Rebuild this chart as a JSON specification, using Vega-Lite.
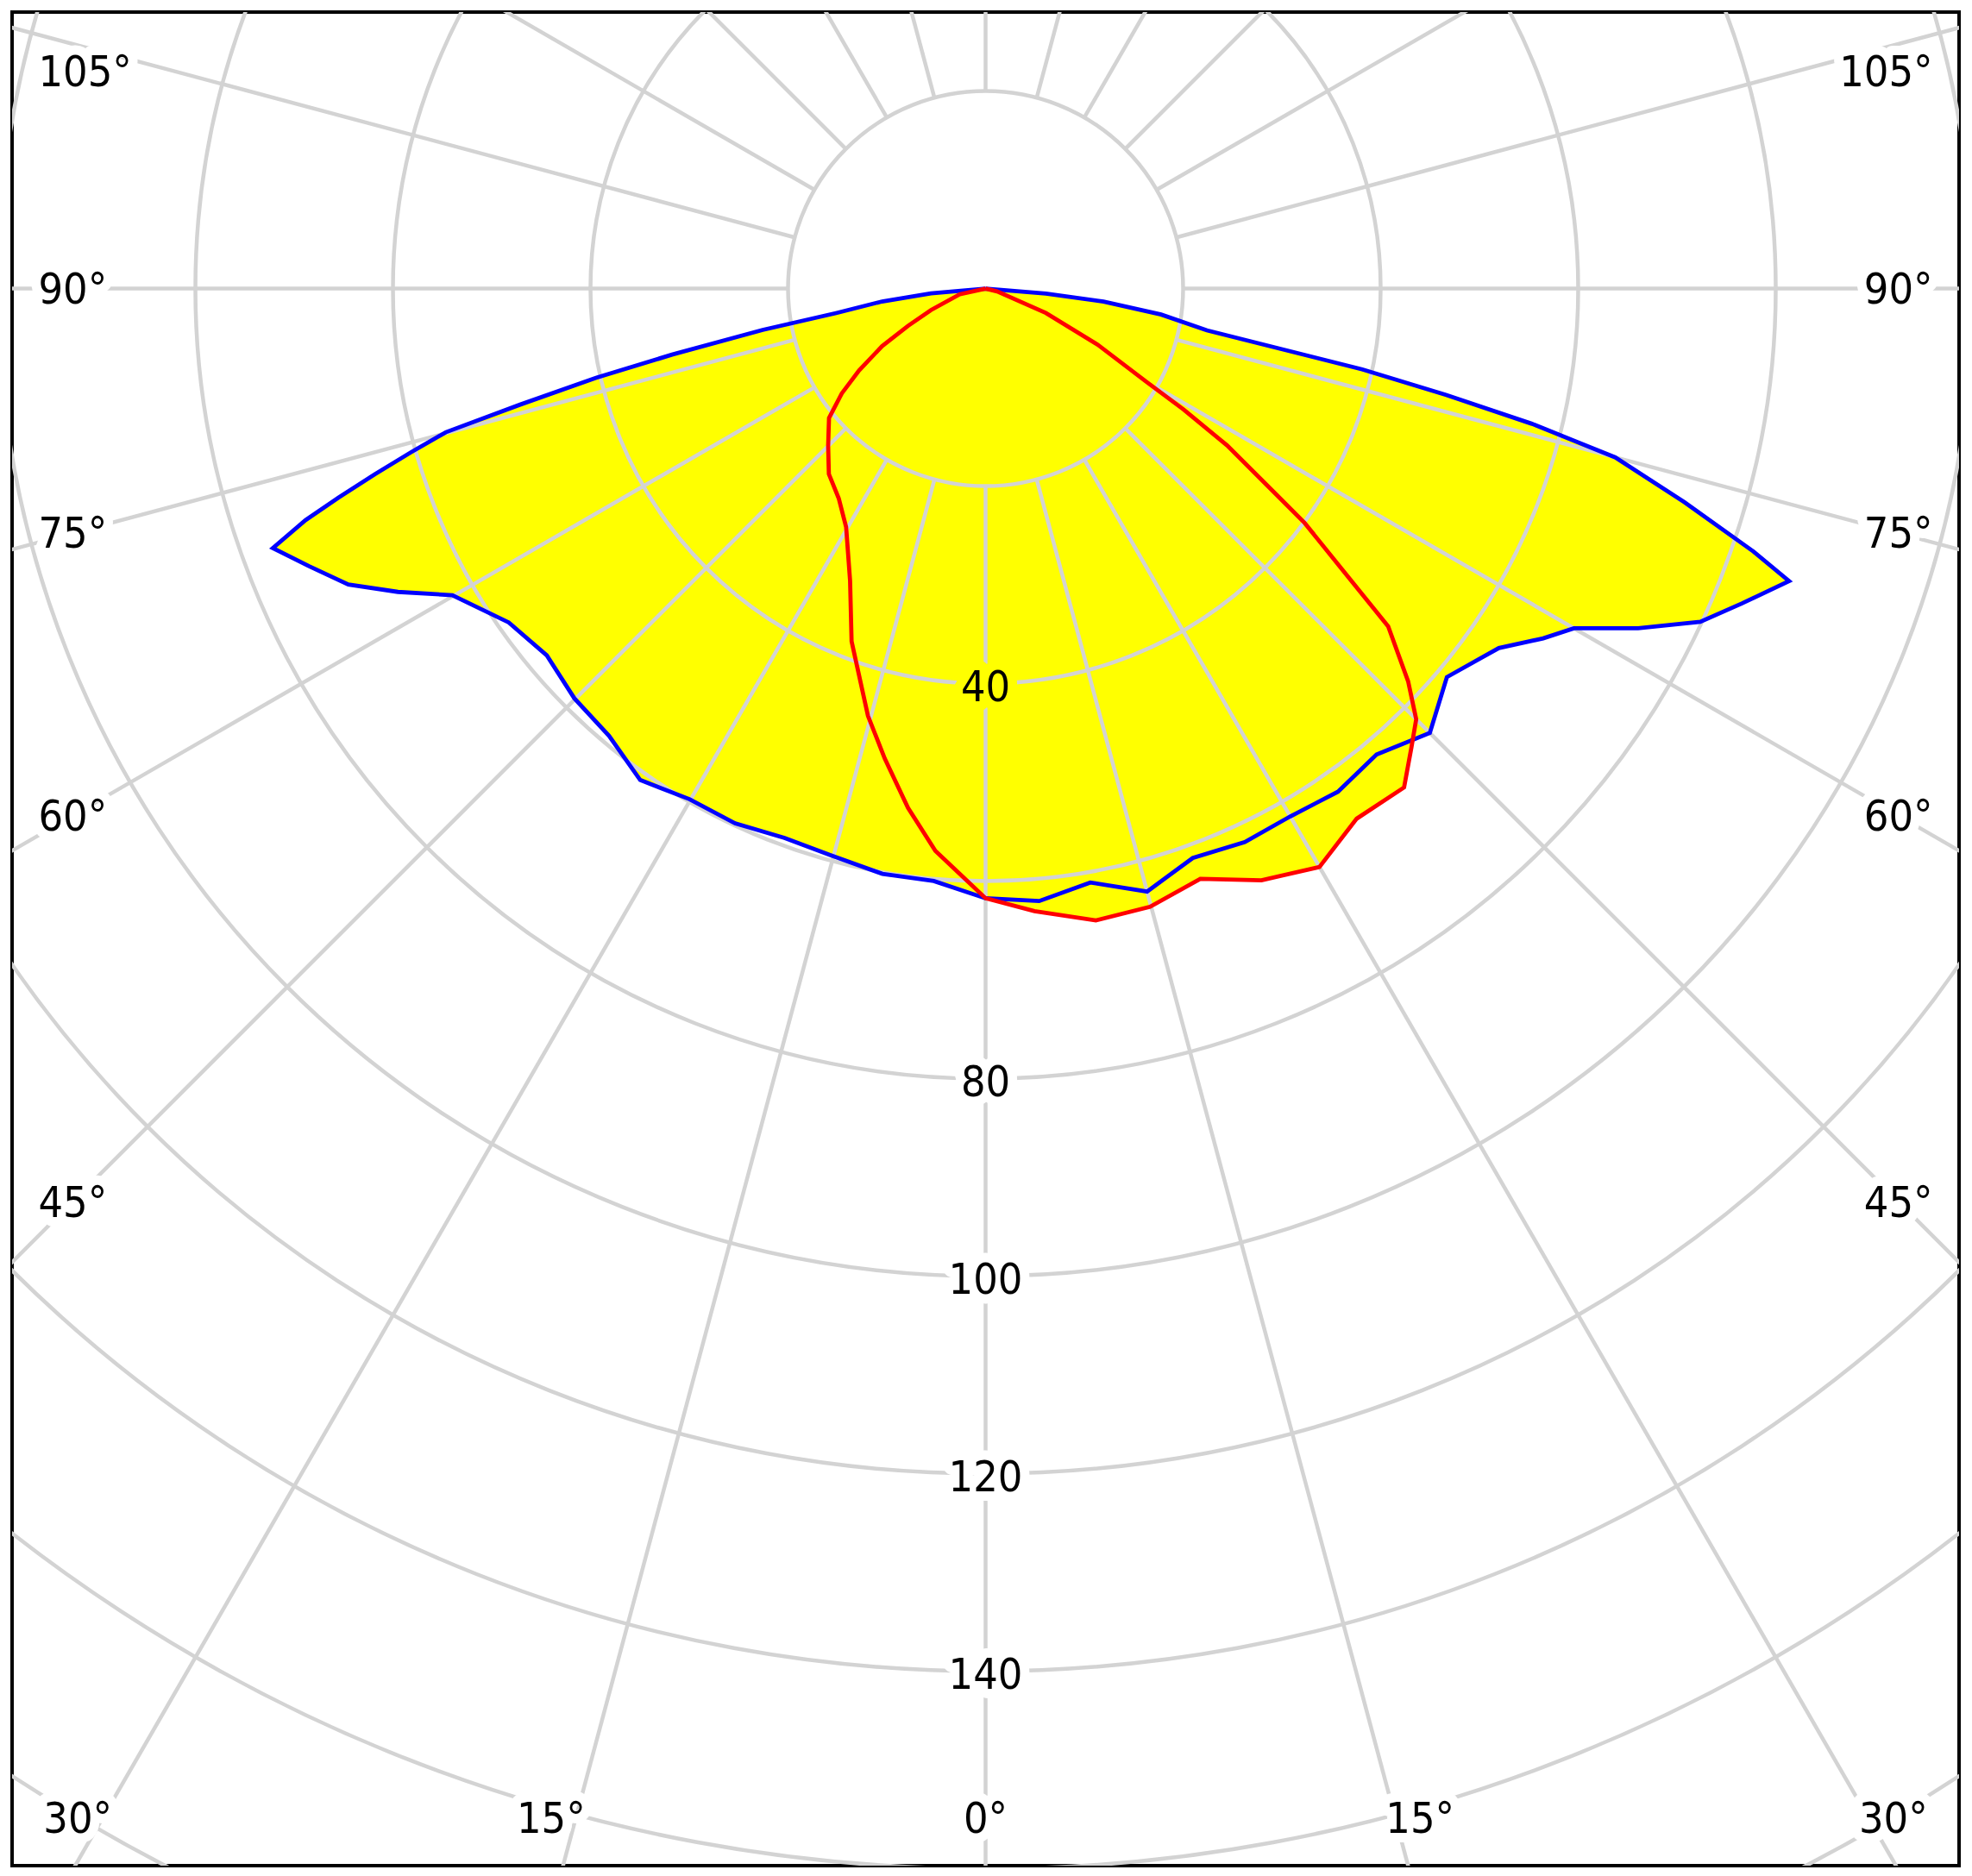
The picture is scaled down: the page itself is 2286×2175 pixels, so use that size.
{
  "$schema": "https://vega.github.io/schema/vega-lite/v6.json",
  "width": 2257,
  "height": 2149,
  "autosize": {"type": "none"},
  "padding": {"left": 14, "top": 14, "right": 15, "bottom": 12},
  "background": "white",
  "config": {"view": {"stroke": "black", "strokeWidth": 4}},
  "datasets": {
    "curves": [
      {"s": "C0-C180", "i": 0, "g": -90, "v": 0},
      {"s": "C0-C180", "i": 1, "g": -84.9, "v": 5.55},
      {"s": "C0-C180", "i": 2, "g": -82.9, "v": 10.56},
      {"s": "C0-C180", "i": 3, "g": -80.7, "v": 15.34},
      {"s": "C0-C180", "i": 4, "g": -79.5, "v": 22.95},
      {"s": "C0-C180", "i": 5, "g": -78.1, "v": 32.44},
      {"s": "C0-C180", "i": 6, "g": -77.1, "v": 40.45},
      {"s": "C0-C180", "i": 7, "g": -76.0, "v": 48.57},
      {"s": "C0-C180", "i": 8, "g": -75.1, "v": 56.54},
      {"s": "C0-C180", "i": 9, "g": -74.1, "v": 60.47},
      {"s": "C0-C180", "i": 10, "g": -73.1, "v": 64.61},
      {"s": "C0-C180", "i": 11, "g": -72.1, "v": 68.82},
      {"s": "C0-C180", "i": 12, "g": -71.2, "v": 72.72},
      {"s": "C0-C180", "i": 13, "g": -70.0, "v": 76.79},
      {"s": "C0-C180", "i": 14, "g": -67.7, "v": 74.04},
      {"s": "C0-C180", "i": 15, "g": -65.1, "v": 71.13},
      {"s": "C0-C180", "i": 16, "g": -62.7, "v": 66.95},
      {"s": "C0-C180", "i": 17, "g": -60.1, "v": 62.27},
      {"s": "C0-C180", "i": 18, "g": -55.0, "v": 58.93},
      {"s": "C0-C180", "i": 19, "g": -50.1, "v": 57.9},
      {"s": "C0-C180", "i": 20, "g": -45.1, "v": 58.77},
      {"s": "C0-C180", "i": 21, "g": -40.1, "v": 59.19},
      {"s": "C0-C180", "i": 22, "g": -35.1, "v": 60.81},
      {"s": "C0-C180", "i": 23, "g": -30.1, "v": 59.75},
      {"s": "C0-C180", "i": 24, "g": -25.1, "v": 59.78},
      {"s": "C0-C180", "i": 25, "g": -20.1, "v": 59.22},
      {"s": "C0-C180", "i": 26, "g": -15.3, "v": 59.47},
      {"s": "C0-C180", "i": 27, "g": -10.0, "v": 60.16},
      {"s": "C0-C180", "i": 28, "g": -5.0, "v": 60.2},
      {"s": "C0-C180", "i": 29, "g": 0, "v": 61.72},
      {"s": "C0-C180", "i": 30, "g": 5.0, "v": 62.24},
      {"s": "C0-C180", "i": 31, "g": 10.0, "v": 61.05},
      {"s": "C0-C180", "i": 32, "g": 15.0, "v": 63.19},
      {"s": "C0-C180", "i": 33, "g": 20.0, "v": 61.34},
      {"s": "C0-C180", "i": 34, "g": 25.1, "v": 61.87},
      {"s": "C0-C180", "i": 35, "g": 30.0, "v": 61.7},
      {"s": "C0-C180", "i": 36, "g": 35.0, "v": 62.19},
      {"s": "C0-C180", "i": 37, "g": 40.0, "v": 61.58},
      {"s": "C0-C180", "i": 38, "g": 45.0, "v": 63.61},
      {"s": "C0-C180", "i": 39, "g": 49.9, "v": 61.06},
      {"s": "C0-C180", "i": 40, "g": 55.0, "v": 63.44},
      {"s": "C0-C180", "i": 41, "g": 57.9, "v": 66.64},
      {"s": "C0-C180", "i": 42, "g": 60.0, "v": 68.78},
      {"s": "C0-C180", "i": 43, "g": 62.5, "v": 74.48},
      {"s": "C0-C180", "i": 44, "g": 65.0, "v": 79.84},
      {"s": "C0-C180", "i": 45, "g": 67.4, "v": 82.94},
      {"s": "C0-C180", "i": 46, "g": 70.0, "v": 86.57},
      {"s": "C0-C180", "i": 47, "g": 71.1, "v": 82.17},
      {"s": "C0-C180", "i": 48, "g": 73.0, "v": 73.99},
      {"s": "C0-C180", "i": 49, "g": 75.0, "v": 65.99},
      {"s": "C0-C180", "i": 50, "g": 76.1, "v": 56.99},
      {"s": "C0-C180", "i": 51, "g": 77.0, "v": 47.82},
      {"s": "C0-C180", "i": 52, "g": 77.9, "v": 39.0},
      {"s": "C0-C180", "i": 53, "g": 79.3, "v": 22.81},
      {"s": "C0-C180", "i": 54, "g": 81.6, "v": 17.96},
      {"s": "C0-C180", "i": 55, "g": 83.7, "v": 12.01},
      {"s": "C0-C180", "i": 56, "g": 85.3, "v": 6.13},
      {"s": "C0-C180", "i": 57, "g": 90, "v": 0},
      {"s": "C90-C270", "i": 0, "g": -90, "v": 0},
      {"s": "C90-C270", "i": 1, "g": -77.4, "v": 2.68},
      {"s": "C90-C270", "i": 2, "g": -68.5, "v": 5.94},
      {"s": "C90-C270", "i": 3, "g": -64.3, "v": 8.72},
      {"s": "C90-C270", "i": 4, "g": -60.9, "v": 11.99},
      {"s": "C90-C270", "i": 5, "g": -57.1, "v": 15.26},
      {"s": "C90-C270", "i": 6, "g": -53.9, "v": 18.02},
      {"s": "C90-C270", "i": 7, "g": -50.4, "v": 20.57},
      {"s": "C90-C270", "i": 8, "g": -45.1, "v": 22.5},
      {"s": "C90-C270", "i": 9, "g": -40.2, "v": 24.58},
      {"s": "C90-C270", "i": 10, "g": -35.0, "v": 25.92},
      {"s": "C90-C270", "i": 11, "g": -30.3, "v": 27.98},
      {"s": "C90-C270", "i": 12, "g": -24.9, "v": 32.58},
      {"s": "C90-C270", "i": 13, "g": -20.8, "v": 38.2},
      {"s": "C90-C270", "i": 14, "g": -15.4, "v": 44.85},
      {"s": "C90-C270", "i": 15, "g": -12.1, "v": 48.67},
      {"s": "C90-C270", "i": 16, "g": -8.5, "v": 53.14},
      {"s": "C90-C270", "i": 17, "g": -5.1, "v": 57.15},
      {"s": "C90-C270", "i": 18, "g": 0, "v": 61.72},
      {"s": "C90-C270", "i": 19, "g": 4.5, "v": 63.22},
      {"s": "C90-C270", "i": 20, "g": 9.9, "v": 64.93},
      {"s": "C90-C270", "i": 21, "g": 14.9, "v": 64.76},
      {"s": "C90-C270", "i": 22, "g": 20.0, "v": 63.58},
      {"s": "C90-C270", "i": 23, "g": 25.0, "v": 66.09},
      {"s": "C90-C270", "i": 24, "g": 30.0, "v": 67.61},
      {"s": "C90-C270", "i": 25, "g": 35.0, "v": 65.51},
      {"s": "C90-C270", "i": 26, "g": 40.0, "v": 65.92},
      {"s": "C90-C270", "i": 27, "g": 42.9, "v": 63.35},
      {"s": "C90-C270", "i": 28, "g": 45.0, "v": 61.66},
      {"s": "C90-C270", "i": 29, "g": 47.1, "v": 58.4},
      {"s": "C90-C270", "i": 30, "g": 50.0, "v": 53.21},
      {"s": "C90-C270", "i": 31, "g": 51.9, "v": 45.52},
      {"s": "C90-C270", "i": 32, "g": 53.7, "v": 40.09},
      {"s": "C90-C270", "i": 33, "g": 54.7, "v": 36.03},
      {"s": "C90-C270", "i": 34, "g": 57.0, "v": 29.15},
      {"s": "C90-C270", "i": 35, "g": 58.6, "v": 23.5},
      {"s": "C90-C270", "i": 36, "g": 59.9, "v": 18.85},
      {"s": "C90-C270", "i": 37, "g": 63.4, "v": 12.7},
      {"s": "C90-C270", "i": 38, "g": 68.0, "v": 6.59},
      {"s": "C90-C270", "i": 39, "g": 76.2, "v": 1.2},
      {"s": "C90-C270", "i": 40, "g": 90, "v": 0}
    ],
    "rings": [{"v": 20}, {"v": 40}, {"v": 60}, {"v": 80}, {"v": 100}, {"v": 120}, {"v": 140}, {"v": 160}, {"v": 180}],
    "spokes": [
      {"a": 0}, {"a": 15}, {"a": 30}, {"a": 45}, {"a": 60}, {"a": 75}, {"a": 90}, {"a": 105},
      {"a": 120}, {"a": 135}, {"a": 150}, {"a": 165}, {"a": 180}, {"a": 195}, {"a": 210}, {"a": 225},
      {"a": 240}, {"a": 255}, {"a": 270}, {"a": 285}, {"a": 300}, {"a": 315}, {"a": 330}, {"a": 345}
    ],
    "ringLabels": [{"v": 40}, {"v": 80}, {"v": 100}, {"v": 120}, {"v": 140}],
    "angleLabels": [
      {"a": -105, "t": "105°"}, {"a": -90, "t": "90°"}, {"a": -75, "t": "75°"}, {"a": -60, "t": "60°"}, {"a": -45, "t": "45°"},
      {"a": -30, "t": "30°"}, {"a": -15, "t": "15°"}, {"a": 0, "t": "0°"}, {"a": 15, "t": "15°"}, {"a": 30, "t": "30°"},
      {"a": 45, "t": "45°"}, {"a": 60, "t": "60°"}, {"a": 75, "t": "75°"}, {"a": 90, "t": "90°"}, {"a": 105, "t": "105°"}
    ]
  },
  "layer": [
    {
      "data": {"name": "curves"},
      "transform": [
        {"calculate": "datum.v * sin(datum.g * PI / 180)", "as": "x"},
        {"calculate": "-datum.v * cos(datum.g * PI / 180)", "as": "y"}
      ],
      "mark": {"type": "line", "fill": "#ffff00", "stroke": "#ffff00", "strokeWidth": 0, "clip": true},
      "encoding": {
        "x": {"field": "x", "type": "quantitative", "scale": {"domain": [-98.56, 98.56], "nice": false, "zero": false}, "axis": null},
        "y": {"field": "y", "type": "quantitative", "scale": {"domain": [-159.65, 27.99], "nice": false, "zero": false}, "axis": null},
        "detail": {"field": "s"},
        "order": {"field": "i", "type": "quantitative"}
      }
    },
    {
      "data": {"name": "rings"},
      "mark": {"type": "arc", "theta": 0, "theta2": 6.2832, "filled": false, "stroke": "#d3d3d3", "strokeWidth": 4.5, "clip": true},
      "encoding": {
        "x": {"datum": 0, "type": "quantitative", "scale": {"domain": [-98.56, 98.56], "nice": false, "zero": false}, "axis": null},
        "y": {"datum": 0, "type": "quantitative", "scale": {"domain": [-159.65, 27.99], "nice": false, "zero": false}, "axis": null},
        "radius": {"field": "v", "type": "quantitative", "stack": null, "scale": {"type": "linear", "domain": [0, 100], "range": [0, 1145], "zero": true, "nice": false}, "legend": null}
      }
    },
    {
      "data": {"name": "spokes"},
      "transform": [
        {"calculate": "20 * sin(datum.a * PI / 180)", "as": "x1"},
        {"calculate": "-20 * cos(datum.a * PI / 180)", "as": "y1"},
        {"calculate": "220 * sin(datum.a * PI / 180)", "as": "x2"},
        {"calculate": "-220 * cos(datum.a * PI / 180)", "as": "y2"}
      ],
      "mark": {"type": "rule", "stroke": "#d3d3d3", "strokeWidth": 4.5, "clip": true},
      "encoding": {
        "x": {"field": "x1", "type": "quantitative", "scale": {"domain": [-98.56, 98.56], "nice": false, "zero": false}, "axis": null},
        "y": {"field": "y1", "type": "quantitative", "scale": {"domain": [-159.65, 27.99], "nice": false, "zero": false}, "axis": null},
        "x2": {"field": "x2"},
        "y2": {"field": "y2"}
      }
    },
    {
      "data": {"name": "ringLabels"},
      "transform": [
        {"calculate": "0", "as": "x"},
        {"calculate": "-datum.v", "as": "y"}
      ],
      "encoding": {
        "x": {"field": "x", "type": "quantitative", "scale": {"domain": [-98.56, 98.56], "nice": false, "zero": false}, "axis": null},
        "y": {"field": "y", "type": "quantitative", "scale": {"domain": [-159.65, 27.99], "nice": false, "zero": false}, "axis": null},
        "text": {"field": "v", "type": "quantitative"}
      },
      "layer": [
        {
          "mark": {"type": "text", "font": "DejaVu Sans Condensed, DejaVu Sans", "fontSize": 50, "align": "center", "baseline": "middle", "dy": 5, "strokeWidth": 22, "strokeJoin": "round"},
          "encoding": {
            "fill": {"condition": {"test": "datum.v == 40", "value": "#ffff00"}, "value": "white"},
            "stroke": {"condition": {"test": "datum.v == 40", "value": "#ffff00"}, "value": "white"}
          }
        },
        {
          "mark": {"type": "text", "font": "DejaVu Sans Condensed, DejaVu Sans", "fontSize": 50, "align": "center", "baseline": "middle", "dy": 5, "fill": "black"}
        }
      ]
    },
    {
      "data": {"name": "angleLabels"},
      "transform": [
        {"filter": "datum.a <= -45"},
        {"calculate": "-95.9", "as": "x"},
        {"calculate": "min(-92.5 / tan(abs(datum.a) * PI / 180), 22)", "as": "y"}
      ],
      "encoding": {
        "x": {"field": "x", "type": "quantitative", "scale": {"domain": [-98.56, 98.56], "nice": false, "zero": false}, "axis": null},
        "y": {"field": "y", "type": "quantitative", "scale": {"domain": [-159.65, 27.99], "nice": false, "zero": false}, "axis": null},
        "text": {"field": "t"}
      },
      "layer": [
        {"mark": {"type": "text", "font": "DejaVu Sans Condensed, DejaVu Sans", "fontSize": 50, "align": "left", "baseline": "middle", "dy": 2, "fill": "white", "stroke": "white", "strokeWidth": 22, "strokeJoin": "round"}},
        {"mark": {"type": "text", "font": "DejaVu Sans Condensed, DejaVu Sans", "fontSize": 50, "align": "left", "baseline": "middle", "dy": 2, "fill": "black"}}
      ]
    },
    {
      "data": {"name": "angleLabels"},
      "transform": [
        {"filter": "datum.a >= 45"},
        {"calculate": "95.9", "as": "x"},
        {"calculate": "min(-92.5 / tan(abs(datum.a) * PI / 180), 22)", "as": "y"}
      ],
      "encoding": {
        "x": {"field": "x", "type": "quantitative", "scale": {"domain": [-98.56, 98.56], "nice": false, "zero": false}, "axis": null},
        "y": {"field": "y", "type": "quantitative", "scale": {"domain": [-159.65, 27.99], "nice": false, "zero": false}, "axis": null},
        "text": {"field": "t"}
      },
      "layer": [
        {"mark": {"type": "text", "font": "DejaVu Sans Condensed, DejaVu Sans", "fontSize": 50, "align": "right", "baseline": "middle", "dy": 2, "fill": "white", "stroke": "white", "strokeWidth": 22, "strokeJoin": "round"}},
        {"mark": {"type": "text", "font": "DejaVu Sans Condensed, DejaVu Sans", "fontSize": 50, "align": "right", "baseline": "middle", "dy": 2, "fill": "black"}}
      ]
    },
    {
      "data": {"name": "angleLabels"},
      "transform": [
        {"filter": "abs(datum.a) <= 30"},
        {"calculate": "154.85 * tan(datum.a * PI / 180) + (datum.a > 0 ? 2.5 : (datum.a < 0 ? -2.5 : 0))", "as": "x"},
        {"calculate": "-154.85", "as": "y"}
      ],
      "encoding": {
        "x": {"field": "x", "type": "quantitative", "scale": {"domain": [-98.56, 98.56], "nice": false, "zero": false}, "axis": null},
        "y": {"field": "y", "type": "quantitative", "scale": {"domain": [-159.65, 27.99], "nice": false, "zero": false}, "axis": null},
        "text": {"field": "t"}
      },
      "layer": [
        {"mark": {"type": "text", "font": "DejaVu Sans Condensed, DejaVu Sans", "fontSize": 50, "align": "center", "baseline": "middle", "dy": 2, "fill": "white", "stroke": "white", "strokeWidth": 22, "strokeJoin": "round"}},
        {"mark": {"type": "text", "font": "DejaVu Sans Condensed, DejaVu Sans", "fontSize": 50, "align": "center", "baseline": "middle", "dy": 2, "fill": "black"}}
      ]
    },
    {
      "data": {"name": "curves"},
      "transform": [
        {"calculate": "datum.v * sin(datum.g * PI / 180)", "as": "x"},
        {"calculate": "-datum.v * cos(datum.g * PI / 180)", "as": "y"}
      ],
      "mark": {"type": "line", "strokeWidth": 4.8, "clip": true},
      "encoding": {
        "x": {"field": "x", "type": "quantitative", "scale": {"domain": [-98.56, 98.56], "nice": false, "zero": false}, "axis": null},
        "y": {"field": "y", "type": "quantitative", "scale": {"domain": [-159.65, 27.99], "nice": false, "zero": false}, "axis": null},
        "color": {"field": "s", "type": "nominal", "scale": {"domain": ["C0-C180", "C90-C270"], "range": ["#0000ff", "#ff0000"]}, "legend": null},
        "order": {"field": "i", "type": "quantitative"}
      }
    }
  ]
}
